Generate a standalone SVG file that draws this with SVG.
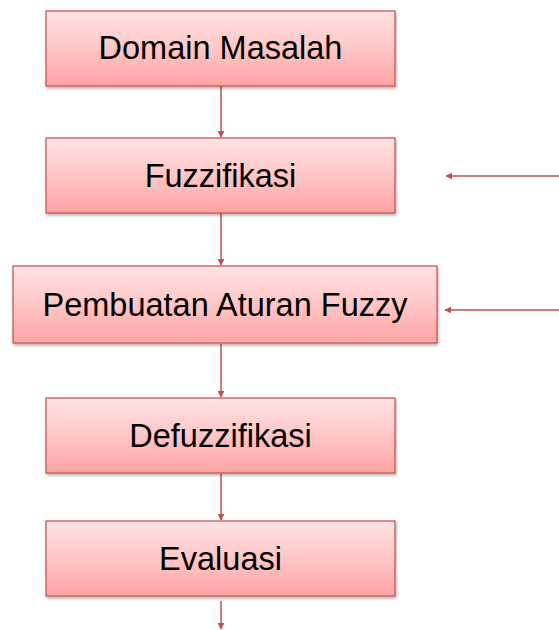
<svg xmlns="http://www.w3.org/2000/svg" width="559" height="630" viewBox="0 0 559 630">
<defs>
<linearGradient id="g" x1="0" y1="0" x2="0" y2="1">
<stop offset="0" stop-color="#ffe2e2"/>
<stop offset="0.5" stop-color="#ffc6c6"/>
<stop offset="1" stop-color="#ffa3a3"/>
</linearGradient>
<filter id="sh" x="-10%" y="-10%" width="120%" height="130%">
<feDropShadow dx="1" dy="2" stdDeviation="1.5" flood-color="#000" flood-opacity="0.3"/>
</filter>
<marker id="ah" viewBox="0 0 10 10" refX="9" refY="5" markerWidth="4.5" markerHeight="4.5" orient="auto">
<path d="M0,0 L10,5 L0,10 z" fill="#c0504d"/>
</marker>
<style>
.box{fill:url(#g);stroke:#c0504d;stroke-width:1.2;filter:url(#sh)}
.t{font-family:"Liberation Sans",Arial,sans-serif;font-size:32.5px;fill:#000;text-anchor:middle;dominant-baseline:central}
.c{stroke:#c0504d;stroke-width:1.5;fill:none;marker-end:url(#ah)}
</style>
</defs>
<g id="connectors">
<line class="c" x1="221" y1="86" x2="221" y2="137"/>
<line class="c" x1="221" y1="213" x2="221" y2="265"/>
<line class="c" x1="221" y1="344" x2="221" y2="397"/>
<line class="c" x1="221" y1="474" x2="221" y2="520"/>
<line class="c" x1="221" y1="601" x2="221" y2="629"/>
<line class="c" x1="559" y1="176" x2="446" y2="176"/>
<line class="c" x1="559" y1="310" x2="445" y2="310"/>
</g>
<g id="domain">
<rect class="box" x="46" y="11" width="349" height="75"/>
<text class="t" x="220.5" y="48">Domain Masalah</text>
</g>
<g id="fuzzifikasi">
<rect class="box" x="46" y="138" width="349" height="75"/>
<text class="t" x="220.5" y="176">Fuzzifikasi</text>
</g>
<g id="aturan">
<rect class="box" x="13" y="266" width="424" height="77"/>
<text class="t" x="225" y="305">Pembuatan Aturan Fuzzy</text>
</g>
<g id="defuzzifikasi">
<rect class="box" x="46" y="398" width="349" height="75"/>
<text class="t" x="220.5" y="436">Defuzzifikasi</text>
</g>
<g id="evaluasi">
<rect class="box" x="46" y="521" width="349" height="75"/>
<text class="t" x="220.5" y="559">Evaluasi</text>
</g>
</svg>
